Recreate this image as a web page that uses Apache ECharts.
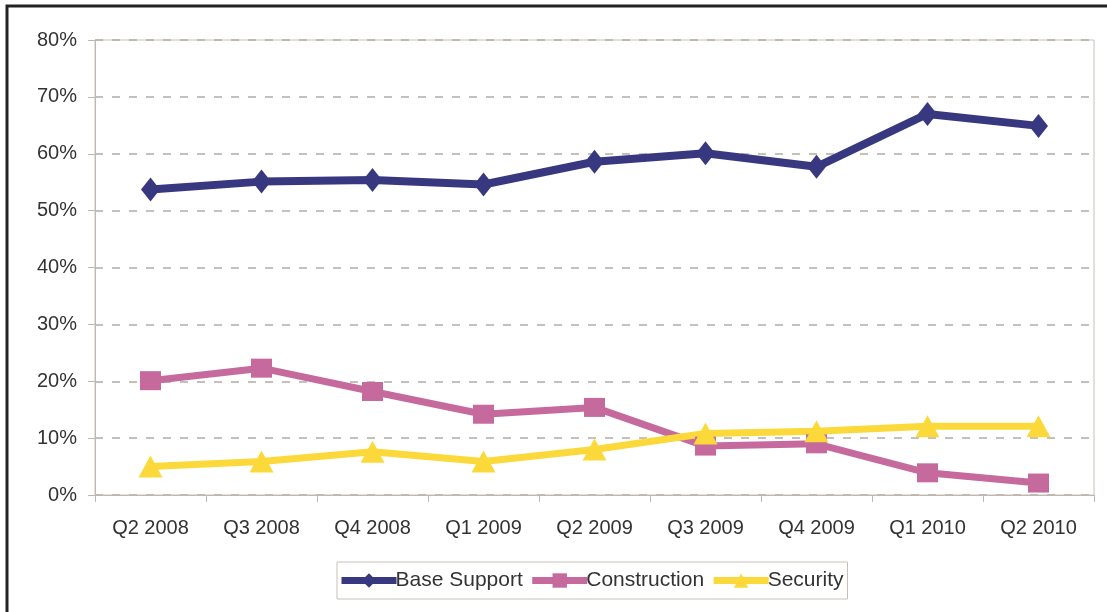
<!DOCTYPE html>
<html><head><meta charset="utf-8">
<script src="https://cdn.jsdelivr.net/npm/echarts@6/dist/echarts.min.js"></script>
<style>html,body{margin:0;padding:0;background:#fff}#c{width:1107px;height:612px}</style>
</head><body><div id="c"></div>
<script>
var categories = ['Q2 2008','Q3 2008','Q4 2008','Q1 2009','Q2 2009','Q3 2009','Q4 2009','Q1 2010','Q2 2010'];
var baseSupport = [53.7, 55.1, 55.4, 54.6, 58.6, 60.1, 57.7, 67.0, 64.9];
var construction = [20.1, 22.3, 18.2, 14.2, 15.4, 8.6, 9.0, 3.9, 2.1];
var security = [5.0, 5.9, 7.6, 5.9, 8.0, 10.8, 11.2, 12.1, 12.1];
var yTicks = [0, 10, 20, 30, 40, 50, 60, 70, 80];

var chart = echarts.init(document.getElementById('c'));
var font = 'Liberation Sans, Arial, sans-serif';
chart.setOption({
  animation: false,
  backgroundColor: '#fff',
  graphic: [{type:'rect', shape:{x:7,y:6,width:1200,height:700}, style:{fill:null, stroke:'#222', lineWidth:3}, silent:true, z:-1}],
  grid: {left: 95, right: 13, top: 40, bottom: 117, show: true, borderColor: '#c8c0b8', borderWidth: 1},
  legend: {
    left: 337, top: 562, orient: 'horizontal',
    padding: [8, 4, 8, 1], itemGap: 6, itemWidth: 55, itemHeight: 18,
    borderColor: '#c8c0b8', borderWidth: 1,
    lineStyle: {width: 7},
    textStyle: {fontFamily: font, fontSize: 21, color: '#333', padding: [0,0,0,-6]},
    data: ['Base Support', 'Construction', 'Security']
  },
  xAxis: {
    type: 'category', data: categories, boundaryGap: true,
    axisLine: {lineStyle: {color: '#c0b8b0', width: 1}},
    axisTick: {show: true, length: 7, lineStyle: {color: '#c0b8b0'}},
    axisLabel: {fontFamily: font, fontSize: 20, color: '#333', margin: 23}
  },
  yAxis: {
    type: 'value', min: 0, max: 80, interval: 10,
    axisLine: {show: true, lineStyle: {color: '#c0b8b0', width: 1}},
    axisTick: {show: true, length: 7, lineStyle: {color: '#c0b8b0'}},
    axisLabel: {fontFamily: font, fontSize: 20, color: '#333', margin: 18, formatter: function(v){ return yTicks.indexOf(v) >= 0 ? v + '%' : ''; }},
    splitLine: {show: true, lineStyle: {color: '#b4aca4', type: [8, 9], width: 1.5}}
  },
  series: [
    {name: 'Base Support', type: 'line', data: baseSupport, symbol: 'diamond', symbolSize: [19, 24],
     lineStyle: {color: '#383880', width: 8}, itemStyle: {color: '#383880'}},
    {name: 'Construction', type: 'line', data: construction, symbol: 'rect', symbolSize: [21, 19],
     lineStyle: {color: '#c66a9e', width: 7}, itemStyle: {color: '#c66a9e'}},
    {name: 'Security', type: 'line', data: security, symbol: 'triangle', symbolSize: [24, 22],
     lineStyle: {color: '#fcd93a', width: 7}, itemStyle: {color: '#fcd93a'}}
  ]
});
</script></body></html>
